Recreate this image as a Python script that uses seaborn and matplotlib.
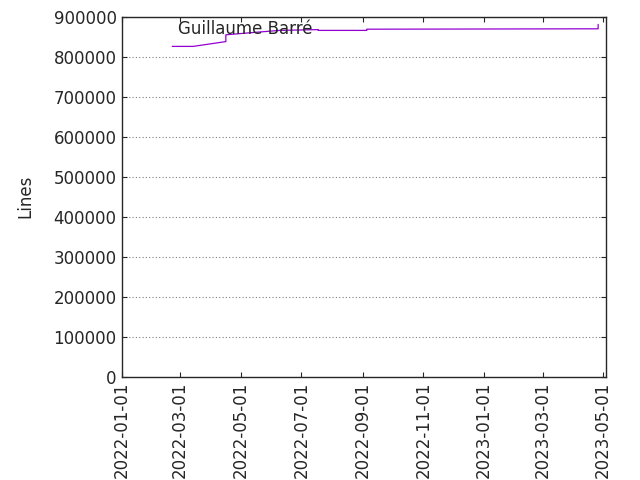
import pandas as pd
import matplotlib
matplotlib.use("Agg")
import matplotlib.pyplot as plt
import matplotlib.dates as mdates
import seaborn as sns

# data
dates = ["2022-02-21", "2022-03-14", "2022-04-16", "2022-04-16", "2022-05-10",
         "2022-06-09", "2022-07-18", "2022-07-18", "2022-09-05", "2022-09-05",
         "2023-04-25", "2023-04-26", "2023-04-26"]
lines = [826000, 826000, 838000, 855000, 860000,
         866000, 868000, 866000, 866000, 869000,
         870000, 870000, 881000]

df = pd.DataFrame({"date": pd.to_datetime(dates), "lines": lines})

sns.set_style("ticks")
fig, ax = plt.subplots(figsize=(6.4, 4.8), dpi=100)
sns.lineplot(data=df, x="date", y="lines", color="#9400d3", linewidth=0.9,
             ax=ax, estimator=None, sort=False)

ax.set_xlim(pd.Timestamp("2022-01-01"), pd.Timestamp("2023-05-04"))
ax.set_ylim(0, 900000)
ax.set_yticks(range(0, 900001, 100000))
ticks = pd.date_range("2022-01-01", "2023-05-01", freq="2MS")
ax.set_xticks(ticks)
ax.xaxis.set_major_formatter(mdates.DateFormatter("%Y-%m-%d"))
plt.setp(ax.get_xticklabels(), rotation=90)
ax.tick_params(direction="in", labelsize=12, top=True, right=True)
ax.yaxis.grid(True, linestyle=(0, (1, 2)), color="gray", linewidth=0.8)
ax.set_xlabel("")
ax.set_ylabel("Lines", fontsize=12, labelpad=14)
for s in ax.spines.values():
    s.set_linewidth(1)
ax.text(pd.Timestamp("2022-02-27"), 857000, "Guillaume Barré", fontsize=12)

fig.subplots_adjust(left=0.19, right=0.947, top=0.965, bottom=0.215)
fig.savefig("out.png")
